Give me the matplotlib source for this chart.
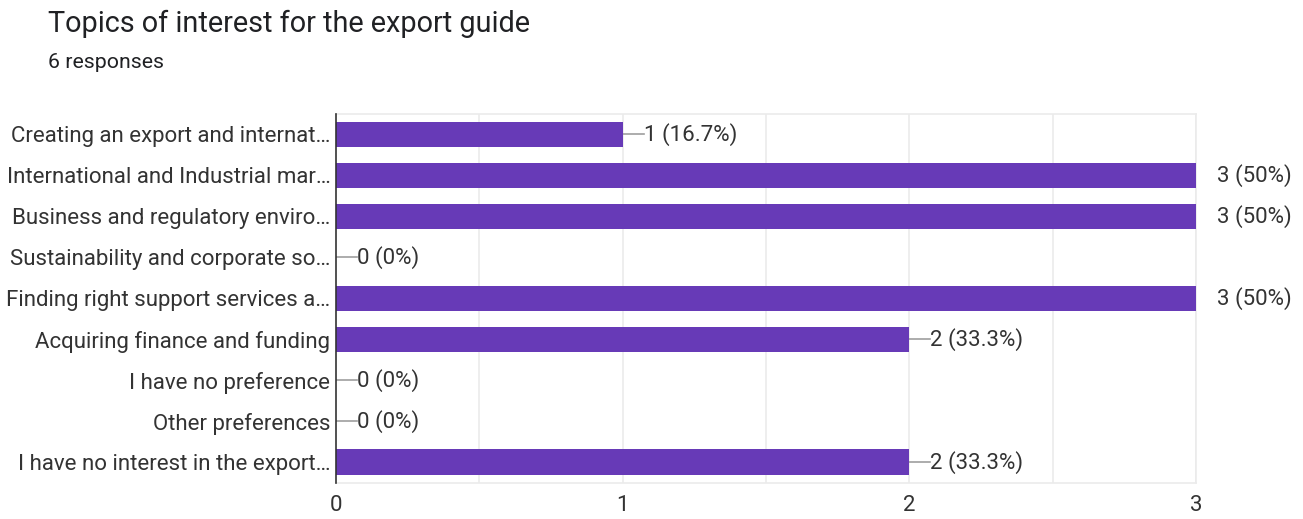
import matplotlib.pyplot as plt
import numpy as np

plt.rcParams['font.family'] = ['Roboto', 'DejaVu Sans']

# ---------- data ----------
topics = [
    "Creating an export and internat…",
    "International and Industrial mar…",
    "Business and regulatory enviro…",
    "Sustainability and corporate so…",
    "Finding right support services a…",
    "Acquiring finance and funding",
    "I have no preference",
    "Other preferences",
    "I have no interest in the export…",
]
counts = [1, 3, 3, 0, 3, 2, 0, 0, 2]
total = 6
xticks = [0, 1, 2, 3]

BAR = "#673ab7"
TEXT = "#333333"
GRID = "#ebebeb"

fig = plt.figure(figsize=(13.03, 5.19), dpi=100)
ax = fig.add_axes([0.2579, 0.0700, 0.66, 0.7105])

y = np.arange(len(topics))
ax.barh(y, counts, height=0.62, color=BAR, zorder=3)

ax.set_xlim(0, 3)
ax.set_ylim(len(topics) - 0.5, -0.5)

# light grid every half unit
for g in np.arange(0.5, 3.01, 0.5):
    ax.axvline(g, color=GRID, lw=1.2, zorder=1)

ax.set_xticks(xticks)
ax.set_xticklabels([str(t) for t in xticks])
ax.set_yticks(y)
ax.set_yticklabels(topics)
ax.tick_params(axis='both', length=0, labelsize=16, colors=TEXT)
ax.tick_params(axis='x', pad=9)
ax.tick_params(axis='y', pad=4)

for side in ['top', 'right', 'bottom']:
    ax.spines[side].set_color(GRID)
    ax.spines[side].set_linewidth(1.2)
ax.spines['left'].set_color('#333333')
ax.spines['left'].set_linewidth(1.2)
ax.spines['left'].set_zorder(4)

# value labels with short leader lines
fig.canvas.draw()
px_per_unit = ax.bbox.width / (ax.get_xlim()[1] - ax.get_xlim()[0])
lead = 21 / px_per_unit
for i, c in enumerate(counts):
    pct = 100 * c / total
    pct_txt = f"{pct:.1f}".rstrip('0').rstrip('.')
    ax.plot([c, c + lead], [i, i], color="#9e9e9e", lw=1.2, zorder=2)
    ax.text(c + lead, i, f"{c} ({pct_txt}%)", va='center', ha='left',
            fontsize=16, color=TEXT, clip_on=False)

fig.text(48 / 1303, 1 - 24 / 519, "Topics of interest for the export guide",
         fontsize=20.8, color="#202124", va='center', ha='left')
fig.text(48 / 1303, 1 - 62 / 519, "6 responses",
         fontsize=15.3, color="#202124", va='center', ha='left')

fig.savefig("out.png", dpi=100)
